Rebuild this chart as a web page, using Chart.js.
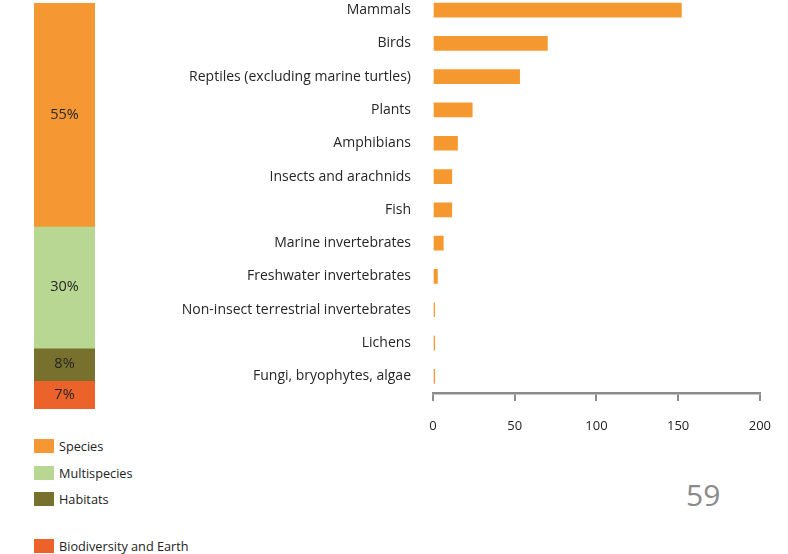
<!DOCTYPE html>
<html lang="en">
<head>
  <title>Species and groups</title>
  <script src="https://cdn.jsdelivr.net/npm/chart.js"></script>
  <style>
    body { margin: 0; width: 788px; height: 554px; position: relative; overflow: hidden; background: #fff; font-family: "Open Sans", sans-serif; }
    #shareWrap { position: absolute; left: 34px; top: 3px; width: 61px; height: 406px; }
    #groupWrap { position: absolute; left: 170px; top: -37px; width: 618px; height: 470px; }
    .legend { position: absolute; left: 34px; font-size: 12.7px; color: #222; display: flex; align-items: center; }
    .legend span.box { display: inline-block; width: 20px; height: 14px; margin-right: 5px; }
    #page { position: absolute; left: 686px; top: 474px; font-size: 30px; color: #8a8a8a; }
  </style>
</head>
<body>
<div id="shareWrap"><canvas id="share"></canvas></div>
<div id="groupWrap"><canvas id="groups"></canvas></div>
<div id="legendBox"></div>
<div id="page">59</div>

<script>
  // Left stacked bar: share of each type
  const shareLabels = ['Species', 'Multispecies', 'Habitats', 'Biodiversity and Earth'];
  const shareValues = [55, 30, 8, 7];
  const shareColors = ['#F59733', '#B7D792', '#78712E', '#EC622B'];

  // Right horizontal bar: number per group
  const groupLabels = ['Mammals', 'Birds', 'Reptiles (excluding marine turtles)', 'Plants', 'Amphibians',
    'Insects and arachnids', 'Fish', 'Marine invertebrates', 'Freshwater invertebrates',
    'Non-insect terrestrial invertebrates', 'Lichens', 'Fungi, bryophytes, algae'];
  const groupValues = [152, 70, 53, 24, 15, 11.5, 11.5, 6.3, 2.7, 1, 1, 1];
  const xTicks = [0, 50, 100, 150, 200];

  const textFont = { family: 'Open Sans', size: 14 };

  // legend in html, with the gap before the last entry
  const legendTops = [437, 464, 490, 537];
  const legendBox = document.getElementById('legendBox');
  shareLabels.forEach((lab, i) => {
    const d = document.createElement('div');
    d.className = 'legend';
    d.style.top = legendTops[i] + 'px';
    d.innerHTML = '<span class="box" style="background:' + shareColors[i] + '"></span>' + lab;
    legendBox.appendChild(d);
  });

  // write the percentage in the middle of each stacked piece
  const pctLabels = {
    id: 'pctLabels',
    afterDatasetsDraw(chart) {
      const ctx = chart.ctx;
      ctx.save();
      ctx.font = '14.5px "Open Sans"';
      ctx.fillStyle = '#262626';
      ctx.textAlign = 'center';
      ctx.textBaseline = 'middle';
      chart.data.datasets.forEach((ds, i) => {
        const bar = chart.getDatasetMeta(i).data[0];
        const p = bar.getProps(['x', 'y', 'base'], true);
        ctx.fillText(ds.data[0] + '%', p.x, (p.y + p.base) / 2);
      });
      ctx.restore();
    }
  };

  new Chart(document.getElementById('share'), {
    type: 'bar',
    data: {
      labels: [''],
      datasets: shareLabels.map((lab, i) => ({
        label: lab,
        data: [shareValues[i]],
        backgroundColor: shareColors[i],
        barPercentage: 1,
        categoryPercentage: 1
      }))
    },
    options: {
      responsive: true,
      maintainAspectRatio: false,
      animation: false,
      layout: { padding: 0 },
      plugins: { legend: { display: false }, tooltip: { enabled: false } },
      scales: {
        x: { display: false, stacked: true },
        y: { display: false, stacked: true, min: 0, max: 100, reverse: true }
      }
    },
    plugins: [pctLabels]
  });

  new Chart(document.getElementById('groups'), {
    type: 'bar',
    data: {
      labels: groupLabels,
      datasets: [{
        data: groupValues,
        backgroundColor: '#F4982F',
        barThickness: 14
      }]
    },
    options: {
      indexAxis: 'y',
      responsive: true,
      maintainAspectRatio: false,
      animation: false,
      layout: { padding: { top: 1, right: 20, left: 0, bottom: 0 } },
      plugins: { legend: { display: false }, tooltip: { enabled: false } },
      scales: {
        x: {
          min: 0,
          max: 200,
          afterBuildTicks(scale) { scale.ticks = xTicks.map(v => ({ value: v })); },
          afterFit(scale) { scale.height = 40; },
          border: { display: true, color: '#8c8c8c', width: 2.5 },
          grid: { drawOnChartArea: false, drawTicks: true, tickLength: 8, color: '#8c8c8c', lineWidth: 2 },
          ticks: { color: '#222', font: { family: 'Open Sans', size: 13 }, padding: 17, maxRotation: 0 }
        },
        y: {
          afterFit(scale) { scale.width = 263; },
          border: { display: false },
          grid: { display: false, drawTicks: false },
          ticks: { color: '#262626', font: textFont, padding: 22 }
        }
      }
    }
  });
</script>
</body>
</html>
